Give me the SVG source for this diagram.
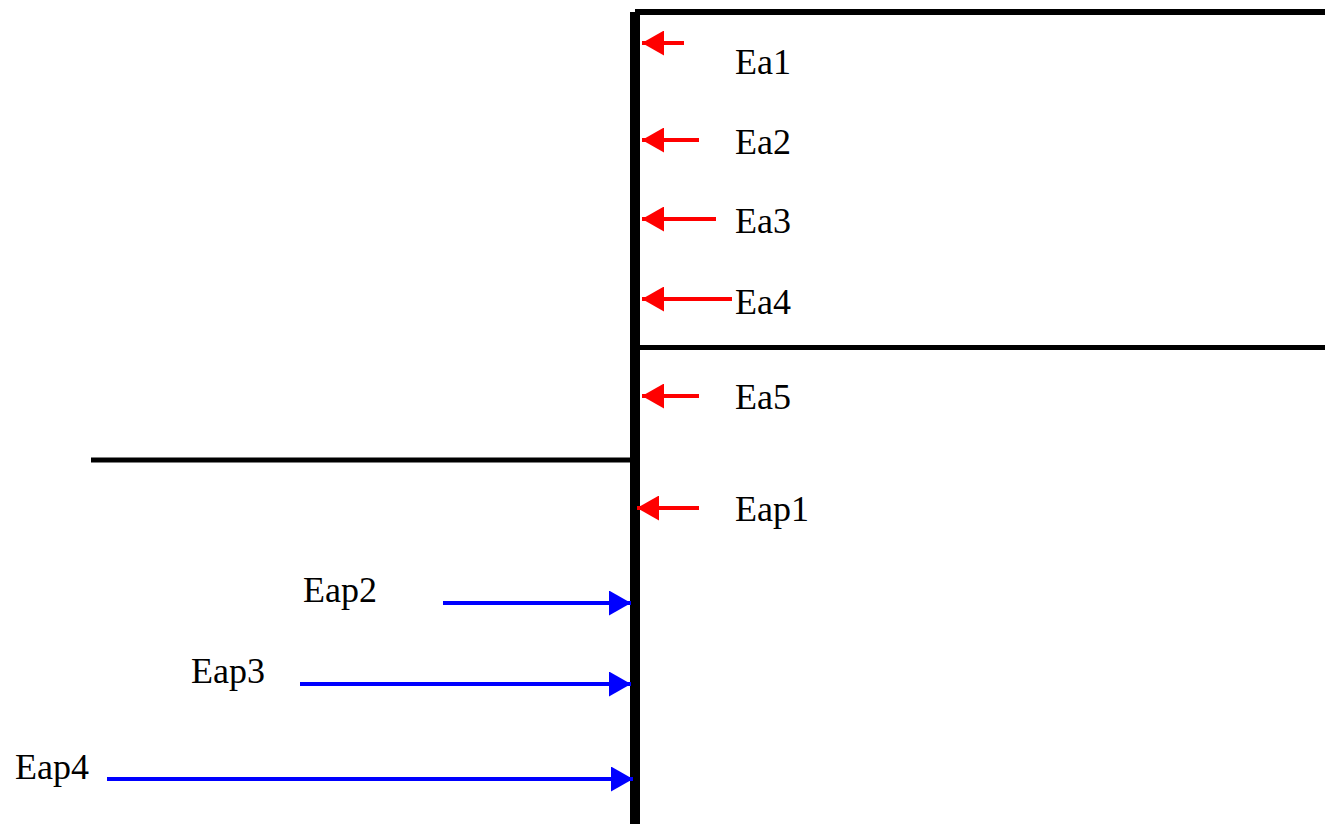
<svg xmlns="http://www.w3.org/2000/svg" width="1325" height="824" viewBox="0 0 1325 824">
<style>
text{font-family:'Liberation Serif','DejaVu Serif',serif;font-size:36px;fill:#000}
.red{stroke:#ff0000;stroke-width:4;fill:none}
.blue{stroke:#0000ff;stroke-width:4;fill:none}
.blk{stroke:#000;fill:none}
</style>
<defs>
<marker id="ahr" viewBox="0 0 22 25" refX="22" refY="12.5" markerWidth="22" markerHeight="25" markerUnits="userSpaceOnUse" orient="auto">
<path d="M0,0 L22,12.5 L0,25 Z" fill="#ff0000"/>
</marker>
<marker id="ahb" viewBox="0 0 22 25" refX="22" refY="12.5" markerWidth="22" markerHeight="25" markerUnits="userSpaceOnUse" orient="auto">
<path d="M0,0 L22,12.5 L0,25 Z" fill="#0000ff"/>
</marker>
</defs>
<rect width="1325" height="824" fill="#fff"/>
<g id="structure">
<line class="blk" x1="635" y1="12" x2="635" y2="824" stroke-width="10"/>
<line class="blk" x1="635" y1="12" x2="1325" y2="12" stroke-width="6"/>
<line class="blk" x1="640" y1="347.5" x2="1325" y2="347.5" stroke-width="5"/>
<line class="blk" x1="91" y1="460" x2="630" y2="460" stroke-width="5"/>
</g>
<g id="connectors">
<line class="red" x1="684" y1="43" x2="642" y2="43" marker-end="url(#ahr)"/>
<line class="red" x1="699" y1="140" x2="642" y2="140" marker-end="url(#ahr)"/>
<line class="red" x1="716" y1="219" x2="642" y2="219" marker-end="url(#ahr)"/>
<line class="red" x1="732" y1="299" x2="642" y2="299" marker-end="url(#ahr)"/>
<line class="red" x1="699" y1="396" x2="642" y2="396" marker-end="url(#ahr)"/>
<line class="red" x1="699" y1="508" x2="637" y2="508" marker-end="url(#ahr)"/>
<line class="blue" x1="443" y1="603" x2="631" y2="603" marker-end="url(#ahb)"/>
<line class="blue" x1="300" y1="684" x2="631" y2="684" marker-end="url(#ahb)"/>
<line class="blue" x1="107" y1="779" x2="633" y2="779" marker-end="url(#ahb)"/>
</g>
<g id="labels">
<text id="Ea1" font-family="Liberation Serif" x="735" y="74">Ea1</text>
<text id="Ea2" font-family="Liberation Serif" x="735" y="154">Ea2</text>
<text id="Ea3" font-family="Liberation Serif" x="735" y="233">Ea3</text>
<text id="Ea4" font-family="Liberation Serif" x="735" y="314">Ea4</text>
<text id="Ea5" font-family="Liberation Serif" x="735" y="409">Ea5</text>
<text id="Eap1" font-family="Liberation Serif" x="735" y="521">Eap1</text>
<text id="Eap2" font-family="Liberation Serif" x="303" y="602">Eap2</text>
<text id="Eap3" font-family="Liberation Serif" x="191" y="683">Eap3</text>
<text id="Eap4" font-family="Liberation Serif" x="15" y="779">Eap4</text>
</g>
</svg>
